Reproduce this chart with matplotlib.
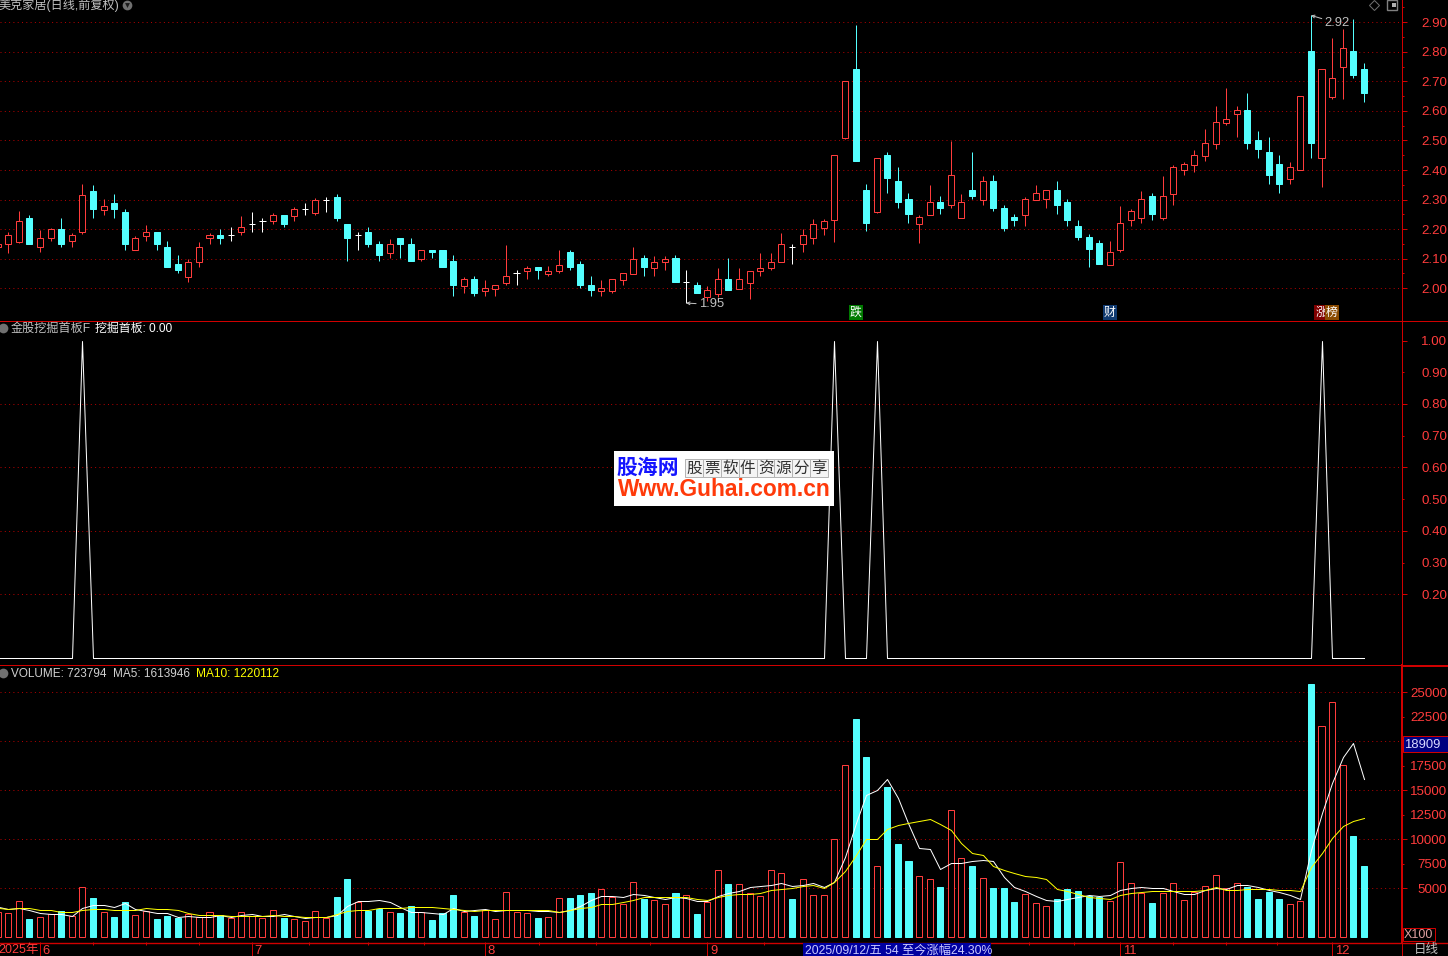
import numpy as np
import matplotlib
matplotlib.use('Agg')
import matplotlib.pyplot as plt
from matplotlib.lines import Line2D
from matplotlib.patches import Rectangle

plt.rcParams['font.family'] = ['Liberation Sans', 'Noto Sans CJK SC', 'DejaVu Sans']

# daily candles
open_px = [2.14, 2.15, 2.158, 2.238, 2.139, 2.169, 2.201, 2.159, 2.189, 2.328,
           2.264, 2.288, 2.258, 2.129, 2.178, 2.191, 2.141, 2.081, 2.038, 2.089,
           2.169, 2.181, 2.179, 2.189, 2.218, 2.228, 2.226, 2.248, 2.246, 2.268,
           2.256, 2.297, 2.308, 2.218, 2.181, 2.191, 2.151, 2.119, 2.171, 2.151,
           2.098, 2.131, 2.131, 2.091, 2.009, 2.031, 1.991, 1.999, 2.018, 2.051,
           2.059, 2.071, 2.048, 2.059, 2.121, 2.081, 2.011, 1.991, 1.991, 2.028,
           2.048, 2.101, 2.068, 2.089, 2.101, 2.02, 2.011, 1.971, 1.981, 2.031,
           1.998, 2.018, 2.059, 2.068, 2.089, 2.141, 2.149, 2.169, 2.204, 2.23,
           2.508, 2.742, 2.331, 2.259, 2.45, 2.362, 2.301, 2.219, 2.249, 2.292,
           2.28, 2.239, 2.333, 2.3, 2.362, 2.272, 2.241, 2.249, 2.3, 2.301,
           2.331, 2.292, 2.211, 2.174, 2.153, 2.08, 2.131, 2.23, 2.239, 2.312,
           2.239, 2.32, 2.401, 2.418, 2.449, 2.489, 2.559, 2.59, 2.602, 2.502,
           2.46, 2.42, 2.371, 2.401, 2.803, 2.439, 2.648, 2.75, 2.803, 2.742]
close_px = [2.15, 2.18, 2.227, 2.151, 2.17, 2.2, 2.151, 2.18, 2.317, 2.268,
            2.277, 2.268, 2.151, 2.17, 2.19, 2.151, 2.071, 2.061, 2.09, 2.14,
            2.18, 2.171, 2.179, 2.207, 2.218, 2.228, 2.247, 2.218, 2.267, 2.268,
            2.297, 2.297, 2.238, 2.171, 2.181, 2.151, 2.111, 2.15, 2.151, 2.091,
            2.13, 2.121, 2.071, 2.011, 2.031, 1.984, 2.0, 2.01, 2.04, 2.051,
            2.07, 2.061, 2.06, 2.08, 2.071, 2.011, 1.994, 2.0, 2.03, 2.05,
            2.1, 2.071, 2.09, 2.1, 2.021, 2.02, 1.984, 1.993, 2.03, 1.994,
            2.03, 2.06, 2.07, 2.09, 2.15, 2.14, 2.18, 2.217, 2.227, 2.45,
            2.7, 2.431, 2.221, 2.44, 2.373, 2.292, 2.251, 2.24, 2.291, 2.272,
            2.382, 2.291, 2.312, 2.362, 2.272, 2.204, 2.231, 2.301, 2.321, 2.331,
            2.282, 2.231, 2.174, 2.133, 2.082, 2.122, 2.22, 2.26, 2.301, 2.251,
            2.311, 2.409, 2.419, 2.45, 2.49, 2.561, 2.572, 2.602, 2.492, 2.471,
            2.383, 2.353, 2.409, 2.649, 2.492, 2.741, 2.71, 2.812, 2.722, 2.661]
high_px = [2.15, 2.19, 2.263, 2.248, 2.198, 2.203, 2.238, 2.188, 2.353, 2.348,
           2.303, 2.318, 2.268, 2.178, 2.214, 2.191, 2.161, 2.111, 2.098, 2.158,
           2.188, 2.201, 2.208, 2.244, 2.258, 2.238, 2.254, 2.248, 2.274, 2.288,
           2.304, 2.308, 2.318, 2.218, 2.191, 2.208, 2.161, 2.168, 2.171, 2.171,
           2.13, 2.131, 2.131, 2.111, 2.038, 2.041, 2.028, 2.01, 2.148, 2.061,
           2.077, 2.071, 2.077, 2.128, 2.131, 2.091, 2.041, 2.028, 2.03, 2.05,
           2.138, 2.111, 2.108, 2.108, 2.111, 2.061, 2.021, 2.008, 2.068, 2.101,
           2.068, 2.06, 2.118, 2.118, 2.188, 2.151, 2.2, 2.234, 2.234, 2.45,
           2.7, 2.891, 2.352, 2.44, 2.46, 2.409, 2.322, 2.248, 2.349, 2.312,
           2.498, 2.319, 2.46, 2.38, 2.382, 2.282, 2.251, 2.308, 2.349, 2.331,
           2.362, 2.302, 2.231, 2.184, 2.163, 2.159, 2.278, 2.268, 2.329, 2.322,
           2.38, 2.417, 2.426, 2.468, 2.539, 2.617, 2.678, 2.617, 2.661, 2.532,
           2.512, 2.451, 2.426, 2.649, 2.923, 2.741, 2.847, 2.876, 2.911, 2.762]
low_px = [2.14, 2.12, 2.152, 2.151, 2.122, 2.161, 2.141, 2.141, 2.183, 2.238,
          2.248, 2.238, 2.131, 2.129, 2.161, 2.131, 2.071, 2.051, 2.021, 2.071,
          2.151, 2.151, 2.161, 2.181, 2.191, 2.191, 2.218, 2.208, 2.228, 2.248,
          2.248, 2.258, 2.228, 2.091, 2.131, 2.141, 2.091, 2.101, 2.101, 2.091,
          2.091, 2.101, 2.071, 1.974, 1.984, 1.974, 1.974, 1.974, 2.011, 2.011,
          2.031, 2.031, 2.041, 2.051, 2.061, 2.001, 1.974, 1.974, 1.984, 2.011,
          2.048, 2.041, 2.041, 2.061, 2.021, 1.95, 1.984, 1.957, 1.971, 1.994,
          1.998, 1.964, 2.041, 2.061, 2.089, 2.081, 2.121, 2.151, 2.181, 2.155,
          2.505, 2.431, 2.194, 2.253, 2.322, 2.272, 2.221, 2.154, 2.249, 2.251,
          2.272, 2.239, 2.302, 2.282, 2.262, 2.194, 2.211, 2.211, 2.3, 2.272,
          2.251, 2.211, 2.163, 2.072, 2.082, 2.08, 2.123, 2.211, 2.221, 2.231,
          2.231, 2.282, 2.383, 2.393, 2.431, 2.471, 2.552, 2.512, 2.471, 2.441,
          2.353, 2.322, 2.353, 2.401, 2.441, 2.343, 2.64, 2.64, 2.711, 2.63]

# indicator panel, 1 on the four signal days
signal = [0] * 8 + [1] + [0] * 70 + [1] + [0] * 3 + [1] + [0] * 41 + [1] + [0] * 4

# volume panel, units of X100
volume = [2585, 2450, 3670, 1870, 2040, 2380, 2690, 2210, 5170, 4010,
          2550, 2070, 3600, 2240, 2690, 1870, 2180, 1970, 2380, 2110,
          2550, 2280, 1970, 2550, 2210, 1940, 2755, 1970, 1840, 1630,
          2650, 1940, 4115, 5950, 3570, 2690, 2925, 2550, 2480, 3200,
          2585, 1770, 2480, 4320, 2550, 2180, 2755, 1840, 4590, 2550,
          2450, 1970, 2040, 3980, 4010, 4320, 4520, 4930, 4080, 3370,
          5610, 3910, 3780, 3370, 4520, 4290, 2380, 3570, 6840, 5440,
          5410, 4490, 4180, 6840, 6530, 3910, 5920, 4290, 4290, 10000,
          17550, 22280, 18400, 7245, 15340, 9520, 7790, 6220, 5920, 5140,
          12960, 8060, 7280, 6020, 5030, 5030, 3600, 4390, 3470, 3160,
          3910, 4930, 4730, 4220, 4115, 3670, 7650, 5510, 4490, 3500,
          4490, 5510, 3780, 4660, 5200, 6330, 5000, 5510, 5140, 3910,
          4630, 3910, 3370, 3670, 25850, 21530, 23980, 17550, 10340, 7280]
ma5 = [3095, 2925, 2993, 2789, 2449, 2381, 2381, 2143, 2959, 3265,
       3265, 3129, 3469, 2857, 2721, 2517, 2449, 2109, 2211, 2041,
       2109, 2245, 2109, 2313, 2347, 2177, 2177, 2381, 2177, 2007,
       2109, 2041, 2245, 3231, 3673, 3673, 3775, 3605, 3061, 2619,
       2619, 2449, 2381, 2959, 2687, 2755, 2857, 2721, 2823, 2755,
       2823, 2687, 2653, 2551, 2789, 3231, 3809, 4251, 4251, 4149,
       4455, 4319, 4115, 3945, 4081, 4047, 3673, 3673, 4217, 4557,
       4727, 5136, 5272, 5306, 5510, 5204, 5340, 5510, 5102, 5680,
       8230, 11630, 14520, 15030, 16120, 14180, 11630, 9150, 8980, 6940,
       7550, 7618, 7822, 7856, 7822, 6190, 5170, 4727, 4217, 3809,
       3741, 3945, 4081, 4353, 4217, 4319, 4829, 5033, 5102, 5000,
       5067, 4727, 4387, 4387, 4829, 5067, 4931, 5306, 5374, 5170,
       4829, 4659, 4319, 3911, 8910, 12650, 15710, 18430, 19790, 16139]
ma10 = [2993, 2857, 2959, 2959, 2823, 2755, 2619, 2619, 2823, 2857,
        2857, 2823, 2823, 2823, 2959, 2857, 2857, 2789, 2517, 2313,
        2313, 2313, 2177, 2211, 2177, 2211, 2245, 2211, 2143, 2109,
        2109, 2075, 2381, 2721, 2823, 2823, 2959, 2959, 3027, 3129,
        3129, 3129, 2959, 2857, 2755, 2653, 2755, 2755, 2755, 2755,
        2755, 2755, 2755, 2619, 2789, 2993, 3129, 3435, 3435, 3571,
        3809, 4081, 4149, 4149, 4149, 4149, 3945, 3843, 4149, 4353,
        4387, 4387, 4557, 4829, 4965, 5000, 5204, 5340, 5033, 5680,
        6802, 8400, 10000, 10000, 11087, 11495, 11631, 11869, 12040, 11529,
        10951, 9591, 8571, 8400, 7278, 6870, 6530, 6292, 6122, 5918,
        4965, 4693, 4387, 4149, 4013, 3945, 4353, 4489, 4591, 4693,
        4727, 4727, 4693, 4693, 4795, 5102, 4829, 4829, 4897, 4931,
        4965, 4829, 4829, 4693, 7210, 8571, 10101, 11359, 11903, 12201]

price_ticks = [2.00, 2.10, 2.20, 2.30, 2.40, 2.50, 2.60, 2.70, 2.80, 2.90]
signal_ticks = [0.20, 0.30, 0.40, 0.50, 0.60, 0.70, 0.80, 0.90, 1.00]
signal_grid = [0.20, 0.40, 0.60, 0.80]
vol_ticks = [5000, 7500, 10000, 12500, 15000, 17500, 20000, 22500, 25000]
vol_grid = [5000, 10000, 15000, 20000, 25000]
month_days = [4, 24, 46, 67, 106, 126]
month_labels = ['6', '7', '8', '9', '11', '12']
week_days = [9, 14, 19, 29.4, 35, 40.3, 51.1, 56.5, 61.6, 72.4, 97.4, 101.6, 111, 116, 120.8]

RED = '#ff3c3c'
CYAN = '#54ffff'
LINE = '#d00000'
GRID = '#b00000'
PX = 0.72  # one pixel in points at dpi 100
W, H = 1448, 956


def fx(x):
    return x / W


def fy(y):
    return 1 - y / H


def panel(top, bottom):
    ax = fig.add_axes([0, fy(bottom), 1402 / W, (bottom - top) / H])
    ax.patch.set_visible(False)
    ax.set_xlim(0.217, 132.6)
    for name in ['left', 'top', 'bottom']:
        ax.spines[name].set_visible(False)
    ax.spines['right'].set_color(LINE)
    ax.spines['right'].set_linewidth(PX)
    ax.yaxis.tick_right()
    ax.set_xticks([])
    return ax


def right_axis(ax, ticks, labels, grid, minor):
    ax.set_yticks(ticks)
    ax.set_yticklabels(labels, color=RED, fontsize=9.6, ha='right')
    ax.set_yticks(minor, minor=True)
    ax.tick_params(axis='y', which='major', length=5 * PX, width=PX, color=LINE, pad=29)
    ax.tick_params(axis='y', which='minor', length=2 * PX, width=PX, color=LINE)
    ax.hlines(grid, 0.217, 132.6, colors=GRID, linewidth=PX, linestyles=(0, (1, 3.3)), zorder=1)


def rule(x0, y0, x1, y1, width=PX):
    line = Line2D([fx(x0), fx(x1)], [fy(y0), fy(y1)], color=LINE, linewidth=width,
                  transform=fig.transFigure, zorder=3)
    line.set_snap(True)
    fig.add_artist(line)


def thin_plot(ax, ys, color):
    line, = ax.plot(x, ys, color=color, linewidth=PX, zorder=3)
    line.set_snap(True)


fig = plt.figure(figsize=(W / 100, H / 100), dpi=100, facecolor='black')
x = np.arange(len(close_px))
o = np.array(open_px)
c = np.array(close_px)
doji = np.abs(o - c) < 0.002
down = c < o

# price panel
ax1 = panel(0, 320.5)
ax1.set_ylim(1.891, 2.975)
right_axis(ax1, price_ticks, ['%.2f' % t for t in price_ticks], price_ticks,
           [t + 0.05 for t in price_ticks])
wick_col = ['white' if d else (CYAN if n else RED) for d, n in zip(doji, down)]
ax1.vlines(x, low_px, high_px, colors=wick_col, linewidth=PX, zorder=2)
ax1.hlines(c[doji], x[doji] - 0.3, x[doji] + 0.3, colors='white', linewidth=PX, zorder=3)
body = ~doji
ax1.bar(x[body & down], (o - c)[body & down], bottom=c[body & down], width=0.57,
        color=CYAN, edgecolor=CYAN, linewidth=PX, zorder=3)
ax1.bar(x[body & ~down], (c - o)[body & ~down], bottom=o[body & ~down], width=0.57,
        color='black', edgecolor=RED, linewidth=PX, zorder=3)

arrow = dict(arrowstyle='->', color='#c0c0c0', linewidth=PX, mutation_scale=5,
             shrinkA=0, shrinkB=0)
ax1.annotate('2.92', xy=(124, 2.923), xytext=(9.8, -5.6), textcoords='offset points',
             color='#c0c0c0', fontsize=9.4, va='center', arrowprops=arrow)
ax1.annotate('1.95', xy=(65, 1.95), xytext=(9.2, -1), textcoords='offset points',
             color='#c0c0c0', fontsize=9.4, va='center', arrowprops=arrow)

# event badges under the candles
for day, word, col in [(81, '跌', '#007a00'), (105, '财', '#103a70'),
                       (125, '涨', '#800000'), (126, '榜', '#8a4a00')]:
    ax1.text(day, 0.025, word, color='white', fontsize=8.6, ha='center', va='center',
             transform=ax1.get_xaxis_transform(), zorder=5,
             bbox=dict(facecolor=col, edgecolor='none', pad=0.8))

# indicator panel
ax2 = panel(320.5, 664.5)
ax2.set_ylim(-0.0205, 1.063)
right_axis(ax2, signal_ticks, ['%.2f' % t for t in signal_ticks], signal_grid, [])
for t, tick in zip(signal_ticks, ax2.yaxis.get_major_ticks()):
    if t in (0.30, 0.50, 0.70, 0.90):
        tick.tick2line.set_markersize(2 * PX)
thin_plot(ax2, signal, 'white')

# volume panel
ax3 = panel(664.5, 942)
ax3.set_ylim(-480, 27837)
right_axis(ax3, vol_ticks, ['' if t == 20000 else str(t) for t in vol_ticks], vol_grid, [])
for t, tick in zip(vol_ticks, ax3.yaxis.get_major_ticks()):
    if t not in vol_grid:
        tick.tick2line.set_markersize(2 * PX)
ax3.spines['right'].set_linewidth(PX * 2)
vol = np.array(volume)
ax3.bar(x[down], vol[down], width=0.57, color=CYAN, edgecolor=CYAN, linewidth=PX, zorder=2)
ax3.bar(x[~down], vol[~down], width=0.57, color='black', edgecolor=RED, linewidth=PX, zorder=2)
thin_plot(ax3, ma5, 'white')
thin_plot(ax3, ma10, '#ffff00')

# date strip
ax3.set_xticks(month_days)
ax3.set_xticklabels([])
ax3.set_xticks(week_days, minor=True)
ax3.tick_params(axis='x', which='major', length=14 * PX, width=PX, color=LINE)
ax3.tick_params(axis='x', which='minor', length=3 * PX, width=PX, color=LINE)
for day, label in zip(month_days, month_labels):
    ax3.annotate(label, xy=(day, 0), xycoords=('data', 'axes fraction'), xytext=(2, -6.8),
                 textcoords='offset points', color=RED, fontsize=9.4, va='center')

# panel rules run across the axis strip too
rule(0, 320.5, W, 320.5)
rule(0, 664.5, W, 664.5)
rule(1402, 665.5, W, 665.5)
rule(0, 942.5, W, 942.5, PX * 1.4)
rule(1402, 942, 1402, H)

fig.text(fx(-2), fy(950.5), '2025年', color=RED, fontsize=9, va='center')
fig.text(fx(1426), fy(950), '日线', color='#c0c0c0', fontsize=9, ha='center', va='center')
fig.add_artist(Rectangle((fx(803), fy(956)), 188 / W, 13 / H, transform=fig.transFigure,
                         facecolor='#0000a0', edgecolor='none', zorder=4))
fig.text(fx(805), fy(950.5), '2025/09/12/五 54 至今涨幅24.30%', color='#c8c8ff', fontsize=8.8,
         va='center', zorder=5)

# right axis boxes
fig.add_artist(Rectangle((fx(1403), fy(752)), 45 / W, 16 / H, transform=fig.transFigure,
                         facecolor='#000080', edgecolor=LINE, linewidth=PX, zorder=4))
fig.text(fx(1404), fy(744.5), '18909', color='#d8d8ff', fontsize=9.4, va='center', zorder=5)
fig.add_artist(Rectangle((fx(1403), fy(941)), 32 / W, 13 / H, transform=fig.transFigure,
                         facecolor='black', edgecolor=LINE, linewidth=PX, zorder=4))
fig.text(fx(1404), fy(935), 'X100', color='#e0a0a0', fontsize=9, va='center', zorder=5)

# panel headers
fig.text(fx(-2), fy(5), '美克家居(日线,前复权)', color='#c0c0c0', fontsize=8.7, va='center')
fig.text(fx(11), fy(329), '金股挖掘首板F', color='#c0c0c0', fontsize=8.7, va='center')
fig.text(fx(95), fy(329), '挖掘首板: 0.00', color='white', fontsize=8.6, va='center')
fig.text(fx(11), fy(674), 'VOLUME: 723794', color='#d0d0d0', fontsize=8.5, va='center')
fig.text(fx(113), fy(674), 'MA5: 1613946', color='#d0d0d0', fontsize=8.5, va='center')
fig.text(fx(196), fy(674), 'MA10: 1220112', color='#ffff00', fontsize=8.6, va='center')

for px, py in [(127, 5), (3, 328), (3, 673)]:
    fig.add_artist(Line2D([fx(px)], [fy(py)], marker='o', markersize=7, color='#707070',
                          markeredgewidth=0, transform=fig.transFigure))
fig.add_artist(Line2D([fx(127)], [fy(5)], marker='v', markersize=3.5, color='#1a1a1a',
                      markeredgewidth=0, transform=fig.transFigure))
fig.add_artist(Line2D([fx(1373.5)], [fy(5)], marker='D', markersize=5.5, color='#707070',
                      markerfacecolor='none', markeredgewidth=PX, transform=fig.transFigure))
fig.add_artist(Line2D([fx(1392)], [fy(5)], marker='s', markersize=7, color='#808080',
                      markerfacecolor='none', markeredgewidth=PX * 1.4, transform=fig.transFigure))
fig.add_artist(Line2D([fx(1393.5)], [fy(5)], marker='s', markersize=2.5, color='#b0b0b0',
                      markeredgewidth=0, transform=fig.transFigure))

# site logo stamped over the middle panel
fig.add_artist(Rectangle((fx(614), fy(506)), 220 / W, 55 / H, transform=fig.transFigure,
                         facecolor='white', edgecolor='none', zorder=6))
fig.text(fx(648), fy(468), '股海网', color='#1414ff', fontsize=15, fontweight='bold',
         ha='center', va='center', zorder=7)
for n, ch in enumerate('股票软件资源分享'):
    fig.add_artist(Rectangle((fx(685 + n * 17.9), fy(477)), 17.9 / W, 18 / H, transform=fig.transFigure,
                             facecolor='#f4f4f4', edgecolor='#b4b4b4', linewidth=PX, zorder=7))
    fig.text(fx(694 + n * 17.9), fy(468), ch, color='#303030', fontsize=11.2,
             ha='center', va='center', zorder=8)
fig.text(fx(724), fy(490), 'Www.Guhai.com.cn', color='#ff3a0a', fontsize=16.4,
         fontweight='bold', ha='center', va='center', zorder=7)

fig.savefig('out.png', dpi=100, facecolor='black')
